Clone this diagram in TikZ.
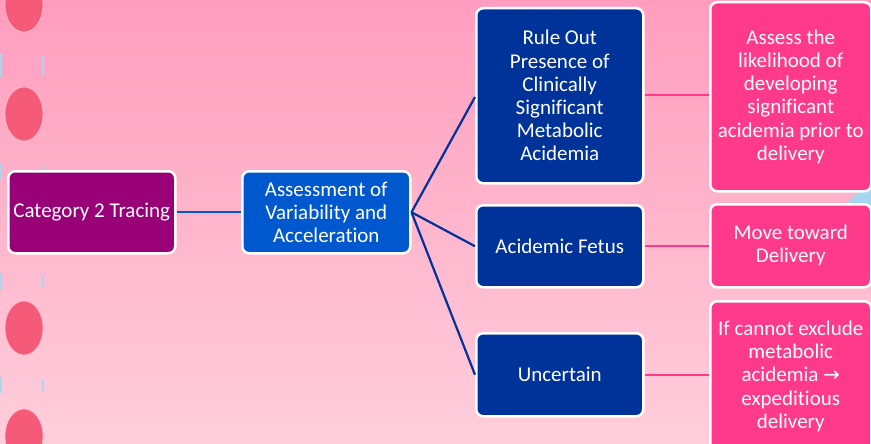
\documentclass[tikz,border=0pt]{standalone}
\usepackage{fontspec}
\setmainfont[Ligatures=NoCommon]{Carlito}
\definecolor{bgtop}{HTML}{FF9DBE}
\definecolor{bgbot}{HTML}{FFCEDB}
\definecolor{dotred}{HTML}{F55A78}
\definecolor{ringblue}{HTML}{A6D6F2}
\definecolor{rootpurple}{HTML}{990077}
\definecolor{midblue}{HTML}{0058CF}
\definecolor{darkblue}{HTML}{003399}
\definecolor{hotpink}{HTML}{FF3A8A}
\tikzset{
  box/.style={draw=white, line width=2.5pt, rounded corners=7pt, text=white,
    align=center, inner sep=0pt, font=\fontsize{21}{23.2}\selectfont, anchor=north west},
  dot/.style={fill=dotred, draw=white!60!dotred, line width=0.6pt},
  ring/.style={fill=ringblue, draw=none},
  link/.style={line width=2.2pt}
}
\begin{document}
\begin{tikzpicture}[x=1pt,y=-1pt]
% page and background
\useasboundingbox (0,0) rectangle (871,444);
\shade[top color=bgtop, bottom color=bgbot] (0,0) rectangle (871,444);
\clip (0,0) rectangle (871,444);

% binder rings along the left edge
\foreach \yy in {5,114,328,436}
  \draw[dot] (24,\yy) ellipse (19 and 27);
\foreach \ya/\yb in {53/77,163/180,273/290,377/393}{
  \fill[ring] (-2,\ya) rectangle (1.5,\yb);
  \fill[ring] (42,\ya+3) rectangle (43.5,\yb-2);
}
% circle on the right edge
\fill[ringblue] (880,225) circle (39);

% nodes
\node[box, fill=rootpurple, minimum width=167pt, minimum height=82pt] (cat) at (7,170) {Category 2 Tracing};
\node[box, fill=midblue, minimum width=168pt, minimum height=82pt] (ass) at (241,170) {Assessment of\\Variability and\\Acceleration};

\node[box, fill=darkblue, minimum width=167pt, minimum height=175pt] (rule) at (475,7) {Rule Out\\Presence of\\Clinically\\Significant\\Metabolic\\Acidemia};
\node[box, fill=darkblue, minimum width=167pt, minimum height=82pt] (fetus) at (475,204) {Acidemic Fetus};
\node[box, fill=darkblue, minimum width=167pt, minimum height=83pt] (unc) at (475,332) {Uncertain};

\node[box, fill=hotpink, minimum width=161pt, minimum height=189pt] (likely) at (709,1) {Assess the\\likelihood of\\developing\\significant\\acidemia prior to\\delivery};
\node[box, fill=hotpink, minimum width=161pt, minimum height=83pt] (move) at (709,203) {Move toward\\Delivery};
\node[box, fill=hotpink, minimum width=161pt, minimum height=150pt] (exc) at (709,300) {If cannot exclude\\metabolic\\acidemia {\fontspec{DejaVu Sans}\fontsize{20}{23}\selectfont→}\\expeditious\\delivery};

% connectors
\draw[link, midblue] (cat.east) -- (ass.east -| ass.west);
\coordinate (hub) at (ass.east);
\draw[link, darkblue] (hub) -- (rule.west |- 0,97);
\draw[link, darkblue] (hub) -- (fetus.west);
\draw[link, darkblue] (hub) -- (unc.west);
\draw[link, hotpink] (rule.east |- 0,95) -- (likely.west |- 0,95);
\draw[link, hotpink] (fetus.east) -- (move.west |- fetus.east);
\draw[link, hotpink] (unc.east) -- (exc.west |- unc.east);
\end{tikzpicture}
\end{document}
